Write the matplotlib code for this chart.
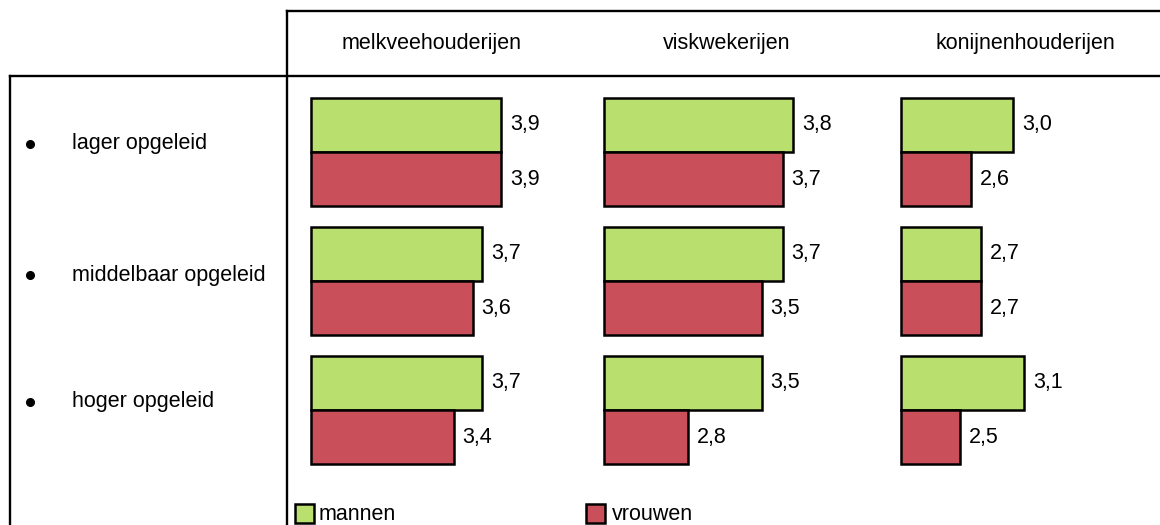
import matplotlib
matplotlib.use("Agg")
import matplotlib.pyplot as plt
from matplotlib.patches import Rectangle

plt.rcParams["font.family"] = ["Liberation Sans", "DejaVu Sans"]

# data
sectors = ["melkveehouderijen", "viskwekerijen", "konijnenhouderijen"]
levels = ["lager opgeleid", "middelbaar opgeleid", "hoger opgeleid"]
mannen = [[3.9, 3.7, 3.7], [3.8, 3.7, 3.5], [3.0, 2.7, 3.1]]
vrouwen = [[3.9, 3.6, 3.4], [3.7, 3.5, 2.8], [2.6, 2.7, 2.5]]
series_names = ["mannen", "vrouwen"]

GREEN = "#b9e06e"
RED = "#c9505b"
W, H = 1160, 525
FS = 15.5


def fig_rect(x, y, w, h):
    # pixel box (top-left origin) -> figure fraction
    return [x / W, 1 - (y + h) / H, w / W, h / H]


fig = plt.figure(figsize=(W / 100, H / 100), dpi=100)

# background layer in pixel coordinates for table lines and text
bg = fig.add_axes([0, 0, 1, 1])
bg.set_xlim(0, W)
bg.set_ylim(H, 0)
bg.axis("off")

lw = 1.7
bg.plot([287, W], [11, 11], color="black", lw=lw)
bg.plot([10, W], [76, 76], color="black", lw=lw)
bg.plot([10, 10], [76, H], color="black", lw=lw)
bg.plot([287, 287], [11, H], color="black", lw=lw)

header_x = [432, 727, 1025]
for name, x in zip(sectors, header_x):
    bg.text(x, 43, name, ha="center", va="center", fontsize=FS)

label_y = [144, 275, 402]
for lab, y in zip(levels, label_y):
    bg.plot([30], [y], marker="o", color="black", markersize=5.5)
    bg.text(72, y, lab, ha="left", va="center", fontsize=FS)

# legend
for (x, tx), name, col in zip([(295, 319), (586, 612)], series_names, [GREEN, RED]):
    bg.add_patch(Rectangle((x, 504), 19, 19, facecolor=col, edgecolor="black", lw=1.8))
    bg.text(tx, 514, name, ha="left", va="center", fontsize=FS)

# bar panels, each with its own horizontal scale (base value, px per unit)
col_left = [311, 604, 901]
col_base = [1.9, 2.0, 1.95]
col_scale = [95, 105, 107]
panel_w = 240
rows = range(len(levels))
for ci, x0 in enumerate(col_left):
    base = col_base[ci]
    ax = fig.add_axes(fig_rect(x0, 74.6, panel_w, 3.2 * 129))
    ax.set_xlim(base, base + panel_w / col_scale[ci])
    ax.set_ylim(2.6, -0.6)
    ax.axis("off")
    for vals, off, col in [(mannen[ci], -0.21, GREEN), (vrouwen[ci], 0.21, RED)]:
        ys = [r + off for r in rows]
        ax.barh(ys, [v - base for v in vals], left=base, height=0.42,
                color=col, edgecolor="black", linewidth=1.8, clip_on=False)
        for y, v in zip(ys, vals):
            ax.annotate(f"{v:.1f}".replace(".", ","), (v, y), xytext=(9, 0),
                        textcoords="offset pixels", ha="left", va="center",
                        fontsize=FS)

fig.savefig("out.png", dpi=100)
